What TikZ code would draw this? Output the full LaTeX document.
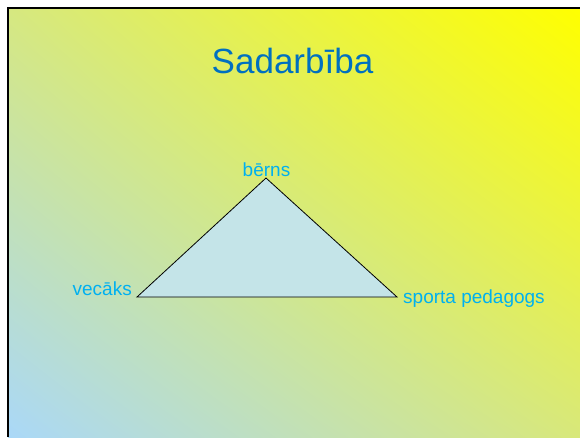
\documentclass[tikz,border=0pt]{standalone}
\usepackage{fontspec}
\setmainfont{Liberation Sans}
\usetikzlibrary{positioning,shadings}
\definecolor{slideyellow}{RGB}{255,255,0}
\definecolor{slidegreen}{RGB}{214,232,128}
\definecolor{slidegreenb}{RGB}{216,232,122}
\definecolor{slideblue}{RGB}{170,216,248}
\definecolor{titleblue}{RGB}{0,112,192}
\definecolor{labelblue}{RGB}{0,176,240}
\definecolor{trifill}{RGB}{196,228,232}
\tikzset{lbl/.style={inner sep=0pt,text=labelblue,font=\fontsize{19}{22}\selectfont}}

\begin{document}
\begin{tikzpicture}[x=1pt,y=-1pt]
\useasboundingbox (0,0) rectangle (580,437);

% Put the background...
\shade[upper left=slidegreen,upper right=slideyellow,lower left=slideblue,lower right=slidegreenb] (8,8) rectangle (580,437);
\draw[line width=2pt] (8,437) -- (8,8) -- (580,8);

% Put the title...
\node (title) at (292.5,73) [anchor=base,inner sep=0pt,text=titleblue,font=\fontsize{35}{40}\selectfont] {Sadarbība};

% Draw the nodes...
\coordinate (berns) at (266,178);
\coordinate (vecaks) at (137,297);
\coordinate (pedagogs) at (397,297);
\node (bernslbl) at (266.5,176) [lbl,anchor=base] {bērns};
\node (vecakslbl) at (132,295) [lbl,anchor=base east] {vecāks};
\node (pedagogslbl) at (403,303) [lbl,anchor=base west] {sporta pedagogs};

% Draw the edges...
\draw[fill=trifill,line width=0.8pt] (vecaks) -- (berns) -- (pedagogs) -- cycle;

\end{tikzpicture}
\end{document}
